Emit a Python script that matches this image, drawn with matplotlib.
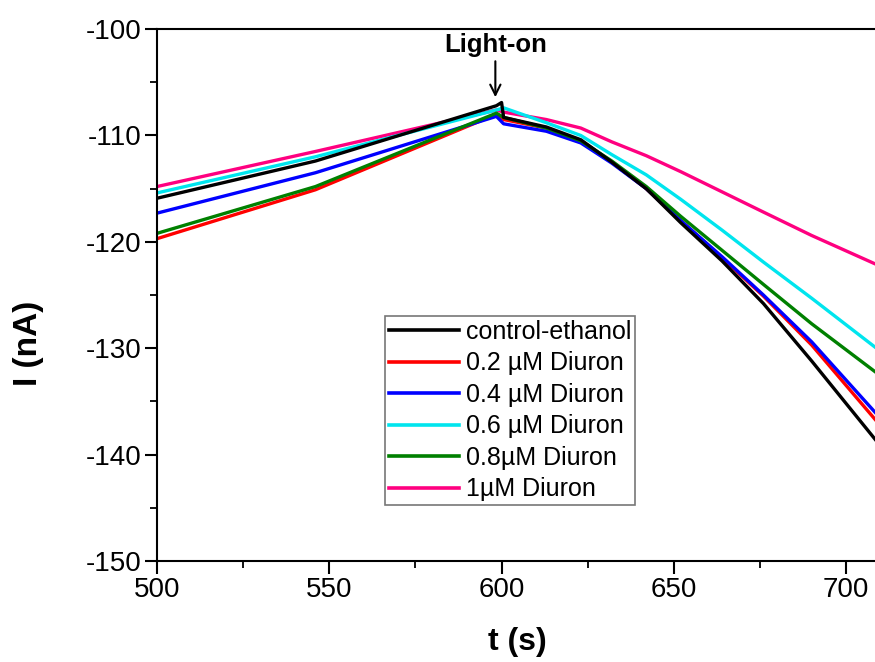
import matplotlib
matplotlib.use("Agg")
import matplotlib.pyplot as plt
from matplotlib.ticker import MultipleLocator

plt.rcParams['font.family'] = ['Liberation Sans', 'DejaVu Sans']
plt.rcParams['axes.unicode_minus'] = False

# values (time in s, current in nA)
t_black = [500, 546, 598.5, 600, 600.6, 613, 623, 632, 642, 652, 664, 676, 690, 710]
i_black = [-115.9, -112.4, -107.2, -106.9, -108.3, -109.2, -110.4, -112.5, -115.0,
           -118.2, -121.8, -125.8, -131.2, -139.2]

t_red = [500, 546, 598.5, 600.6, 613, 623, 632, 642, 652, 664, 676, 690, 710]
i_red = [-119.7, -115.1, -108.0, -108.5, -109.3, -110.5, -112.5, -115.0, -118.0,
         -121.5, -125.1, -129.7, -137.3]

t_blue = [500, 546, 598.5, 600.6, 613, 623, 632, 642, 652, 664, 676, 690, 710]
i_blue = [-117.3, -113.5, -108.2, -108.9, -109.6, -110.7, -112.6, -115.0, -118.0,
          -121.4, -125.0, -129.4, -136.6]

t_cyan = [500, 546, 598.5, 600.6, 613, 623, 632, 642, 652, 664, 676, 690, 710]
i_cyan = [-115.4, -112.0, -107.6, -107.4, -108.8, -110.0, -111.8, -113.7, -116.0,
          -118.9, -121.9, -125.3, -130.3]

t_green = [500, 546, 598.5, 600.6, 613, 623, 632, 642, 652, 664, 676, 690, 710]
i_green = [-119.2, -114.8, -107.9, -108.3, -109.3, -110.5, -112.4, -114.8, -117.6,
           -120.8, -124.0, -127.7, -132.6]

t_pink = [500, 546, 598.5, 600.6, 613, 623, 632, 642, 652, 664, 676, 690, 710]
i_pink = [-114.8, -111.5, -107.6, -107.8, -108.5, -109.3, -110.6, -111.9, -113.4,
          -115.3, -117.2, -119.4, -122.3]

labels = ['control-ethanol', '0.2 µM Diuron', '0.4 µM Diuron',
          '0.6 µM Diuron', '0.8µM Diuron', '1µM Diuron']
colors = ['#000000', '#ff0000', '#0000ff', '#00e5ee', '#008000', '#ff0080']

series = [(t_black, i_black), (t_red, i_red), (t_blue, i_blue),
          (t_cyan, i_cyan), (t_green, i_green), (t_pink, i_pink)]

fig = plt.figure(figsize=(8.75, 6.62), dpi=100)
ax = fig.add_axes([0.1794, 0.1526, 0.827, 0.8034])

order = [5, 3, 1, 2, 4, 0]
handles = [None] * 6
for k in order:
    t, i = series[k]
    h, = ax.plot(t, i, color=colors[k], lw=2.4, label=labels[k])
    handles[k] = h

ax.set_xlim(500, 710)
ax.set_ylim(-150, -100)
ax.xaxis.set_major_locator(MultipleLocator(50))
ax.xaxis.set_minor_locator(MultipleLocator(25))
ax.yaxis.set_major_locator(MultipleLocator(10))
ax.yaxis.set_minor_locator(MultipleLocator(5))
ax.tick_params(which='major', direction='out', length=9, width=1.5, labelsize=20, pad=2.5)
ax.tick_params(which='minor', direction='out', length=5, width=1.3)
for s in ax.spines.values():
    s.set_linewidth(1.5)

ax.set_xlabel('t (s)', fontsize=23, fontweight='bold')
ax.set_ylabel('I (nA)', fontsize=24, fontweight='bold')
ax.xaxis.set_label_coords(0.498, -0.124)
ax.yaxis.set_label_coords(-0.156, 0.41)

ax.annotate('Light-on', xy=(598.2, -106.4), xytext=(598.2, -101.5),
            ha='center', va='center', fontsize=18.5, fontweight='bold',
            arrowprops=dict(arrowstyle='->', color='black', lw=1.5,
                            shrinkA=1, shrinkB=0))

leg = ax.legend(handles=handles, loc='lower left', bbox_to_anchor=(0.315, 0.105),
                fontsize=18, frameon=True, fancybox=False, edgecolor='#555555',
                handlelength=2.8, handletextpad=0.28, labelspacing=0.3,
                borderpad=0.15, borderaxespad=0)
leg.get_frame().set_linewidth(1.2)
for h in leg.get_lines():
    h.set_linewidth(2.6)

fig.savefig('out.png', dpi=100)
